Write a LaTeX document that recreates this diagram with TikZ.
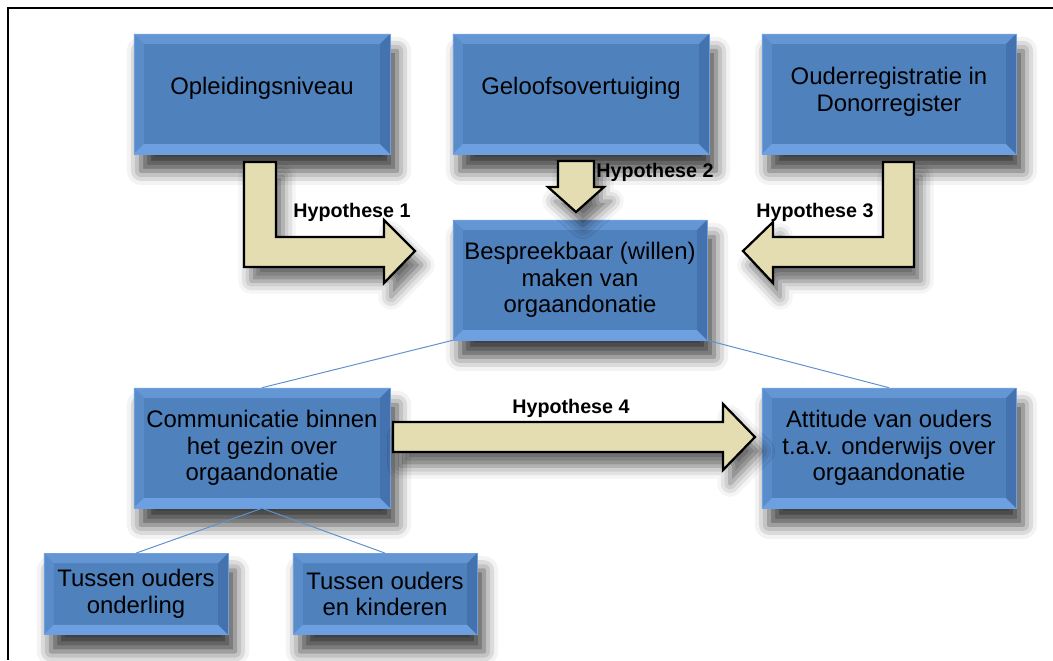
\documentclass[tikz,border=0pt]{standalone}
\usepackage{fontspec}
\setmainfont{Liberation Sans}
\usetikzlibrary{positioning, calc, shadows.blur}
\definecolor{boxblue}{RGB}{79,129,189}
\definecolor{bevtop}{RGB}{100,150,212}
\definecolor{bevleft}{RGB}{90,140,202}
\definecolor{bevbottom}{RGB}{108,160,224}
\definecolor{bevright}{RGB}{68,114,174}
\definecolor{arrowcream}{RGB}{228,221,178}
\definecolor{linkblue}{RGB}{95,145,205}

\begin{document}
\begin{tikzpicture}[
      x=0.025cm, y=-0.025cm,
      bevel/.style={path picture={
        \coordinate (bnw) at (path picture bounding box.north west);
        \coordinate (bse) at (path picture bounding box.south east);
        \coordinate (bne) at (bse |- bnw);
        \coordinate (bsw) at (bnw |- bse);
        \fill[bevtop] (bnw) -- (bne) -- ([shift={(-7pt,-7pt)}]bne) -- ([shift={(7pt,-7pt)}]bnw) -- cycle;
        \fill[bevleft] (bnw) -- (bsw) -- ([shift={(7pt,7pt)}]bsw) -- ([shift={(7pt,-7pt)}]bnw) -- cycle;
        \fill[bevbottom] (bsw) -- (bse) -- ([shift={(-7pt,7pt)}]bse) -- ([shift={(7pt,7pt)}]bsw) -- cycle;
        \fill[bevright] (bne) -- (bse) -- ([shift={(-7pt,7pt)}]bse) -- ([shift={(-7pt,-7pt)}]bne) -- cycle;
      }},
      box/.style={rectangle, fill=boxblue, draw=bevbottom, line width=0.4pt, minimum width=6.4cm, minimum height=3cm, align=center, inner sep=2pt, font=\fontsize{17}{19}\selectfont, blur shadow={shadow xshift=5pt, shadow yshift=-12pt, shadow blur radius=10pt, shadow opacity=75}, bevel},
      smallbox/.style={box, minimum width=4.6cm, minimum height=2.03cm},
      hyp/.style={fill=arrowcream, draw=black, line width=1.6pt, line join=miter, blur shadow={shadow xshift=5pt, shadow yshift=-10pt, shadow blur radius=9pt, shadow opacity=60}},
      lab/.style={font=\fontsize{14}{16}\selectfont\bfseries},
      link/.style={draw=linkblue, line width=0.7pt},
      frame/.style={line width=2pt}
    ]
    \useasboundingbox (0,0) rectangle (1053,660);

    % 1. FACTORS
    \node[box] (opl) at (262,94) {Opleidingsniveau\\[-7.5pt]};
    \node[box] (gel) at (581,94) {Geloofsovertuiging\\[-7.5pt]};
    \node[box, minimum width=6.35cm] (oud) at (889,94) {Ouderregistratie in\\Donorregister\\[-12pt]};

    % 2. CENTRE
    \node[box, minimum width=6.35cm] (besp) at (580,280) {Bespreekbaar (willen)\\maken van\\orgaandonatie};

    % 3. OUTCOMES
    \node[box] (comm) at (262,448) {Communicatie binnen\\het gezin over\\orgaandonatie};
    \node[box, minimum width=6.35cm] (att) at (889,448) {Attitude van ouders\\t.a.v. onderwijs over\\orgaandonatie};
    \node[smallbox] (tus1) at (136,594) {Tussen ouders\\onderling};
    \node[smallbox] (tus2) at (385,594) {Tussen ouders\\en kinderen};

    %%% TREE LINES
    \draw[link] (besp.south west) -- (comm.north);
    \draw[link] (besp.south east) -- (att.north);
    \draw[link] (comm.south) -- (tus1.north);
    \draw[link] (comm.south) -- (tus2.north);

    %%% HYPOTHESES
    \draw[hyp] (244,162) -- (276,162) -- (276,237) -- (384,237) -- (384,220) -- (415,251) -- (384,283) -- (384,267) -- (244,267) -- cycle;
    \draw[hyp] (558,161) -- (594,161) -- (594,187) -- (604,187) -- (576,212) -- (548,187) -- (558,187) -- cycle;
    \draw[hyp] (914,162) -- (883,162) -- (883,237) -- (773,237) -- (773,222) -- (743,251) -- (773,283) -- (773,267) -- (914,267) -- cycle;
    \draw[hyp] (393,422) -- (723,422) -- (723,404) -- (755,437) -- (723,470) -- (723,452) -- (393,452) -- cycle;
    \node[lab] (h1) at (352,212) {Hypothese 1};
    \node[lab] (h2) at (655,172) {Hypothese 2};
    \node[lab] (h3) at (815,212) {Hypothese 3};
    \node[lab] (h4) at (571,408) {Hypothese 4};

    %%% FRAME
    \draw[frame] (1053,8) -- (8,8) -- (8,660);
\end{tikzpicture}
\end{document}
